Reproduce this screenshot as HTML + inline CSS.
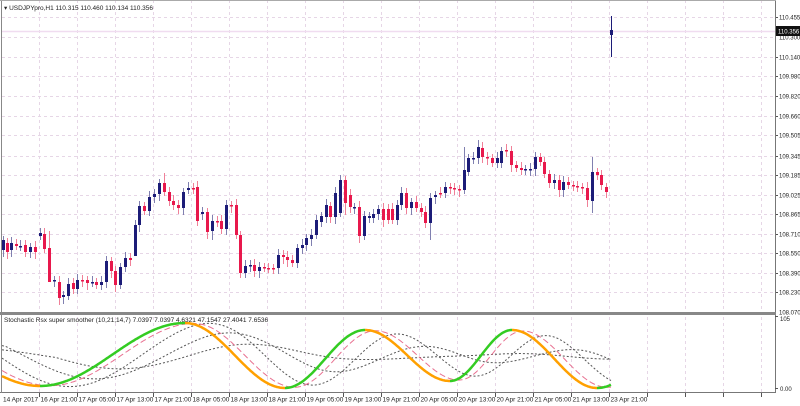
<!DOCTYPE html>
<html><head><meta charset="utf-8"><style>
html,body{margin:0;padding:0;background:#fff;width:800px;height:406px;overflow:hidden}
svg text{font-family:"Liberation Sans",sans-serif;font-size:6.5px;fill:#222}
svg text.p{font-size:6px}
</style></head><body>
<svg id="s" width="800" height="406" xmlns="http://www.w3.org/2000/svg"></svg>
<script>
var s=document.getElementById('s'),h='';
function L(x1,y1,x2,y2,c,w,d){h+='<line x1="'+x1+'" y1="'+y1+'" x2="'+x2+'" y2="'+y2+'" stroke="'+c+'" stroke-width="'+(w||1)+'"'+(d?' stroke-dasharray="'+d+'"':'')+'/>';}
function T(x,y,t,a){h+='<text x="'+x+'" y="'+y+'"'+(a?' '+a:'')+'>'+t+'</text>';}
function P(x,y,t,a){h+='<text class="p" x="'+x+'" y="'+y+'"'+(a?' '+a:'')+'>'+t+'</text>';}
var G='#e6d6e6';
var pl=[['110.455',17],['110.140',57],['109.980',76],['109.820',96],['109.660',116],['109.505',135],['109.345',156],['109.185',175],['109.025',195],['108.865',214],['108.710',234],['108.550',253],['108.390',273],['108.230',292]];
pl.forEach(function(p){L(2,p[1]+0.5,775,p[1]+0.5,G,1,'3,3');L(775,p[1]+0.5,778,p[1]+0.5,'#555');P(779,p[1]+2.5,p[0]);});
L(2,37.5,775,37.5,G,1,'3,3');P(779,39.5,'110.300');
P(779,314.5,'108.070');
var tl=['16 Apr 21:00','17 Apr 05:00','17 Apr 13:00','17 Apr 21:00','18 Apr 05:00','18 Apr 13:00','18 Apr 21:00','19 Apr 05:00','19 Apr 13:00','19 Apr 21:00','20 Apr 05:00','20 Apr 13:00','20 Apr 21:00','21 Apr 05:00','21 Apr 13:00','23 Apr 21:00'];
for(var k=0;k<20;k++){var x=40+k*38-0.5;if(x>=775)break;L(x,0,x,312,G,1,'3,3');L(x,317,x,392,G,1,'3,3');L(x,393,x,397,'#555');if(k<tl.length)T(x+1,401.5,tl[k]);}
T(3,401.5,'14 Apr 2017');
L(2,31.5,775,31.5,'#f0dcf0',1.5);
var c=[[3,250,240],[7,243,252],[11,250,243],[16,244,246],[20,247,246],[25,245,252],[30,252,247],[35,247,252],[40,236,233],[44,234,249],[49,248,282],[54,281,280],[59,282,298],[63,297,295],[68,296,284],[73,283,289],[77,289,280],[82,280,281],[87,280,283],[92,283,282],[96,282,285],[101,285,282],[106,282,261],[111,261,271],[115,271,285],[120,285,267],[125,267,258],[130,258,260],[135,256,225],[139,225,206],[144,206,211],[149,211,197],[154,197,194],[159,194,183],[164,183,192],[169,192,201],[173,201,205],[178,205,208],[183,208,192],[188,190,188],[193,188,189],[197,187,221],[202,214,212],[207,212,232],[212,231,221],[217,221,222],[221,221,229],[226,229,205],[231,205,206],[236,205,235],[240,235,273],[245,273,266],[250,266,265],[254,265,271],[259,271,267],[264,267,268],[268,268,269],[273,268,269],[278,268,255],[283,255,257],[287,257,260],[292,260,263],[297,263,248],[302,248,245],[306,245,238],[311,239,235],[316,235,220],[321,222,216],[326,217,205],[330,206,217],[335,217,193],[340,213,180],[345,180,203],[350,195,207],[354,208,207],[359,207,236],[364,236,216],[369,218,216],[373,218,214],[378,214,209],[383,209,220],[388,209,220],[392,209,220],[397,220,205],[401,205,193],[406,193,208],[411,208,202],[416,202,208],[421,208,212],[425,212,223],[430,223,198],[435,197,195],[440,193,194],[445,193,187],[450,187,188],[454,188,189],[459,189,190],[464,190,170],[468,172,158],[473,159,158],[478,158,147],[482,148,157],[487,157,158],[492,158,163],[497,163,158],[501,163,151],[506,150,151],[511,151,165],[516,165,168],[521,168,170],[525,170,169],[530,170,169],[535,169,157],[540,157,162],[544,162,174],[549,174,183],[554,183,180],[559,180,190],[563,190,182],[568,182,185],[573,185,186],[577,186,187],[582,187,188],[587,188,200],[592,201,172],[597,172,175],[601,175,185],[606,187,192],[611,35,30]];
var wk={49:[231,282],135:[220,228],164:[173,0],212:[0,240],240:[0,278],345:[0,215],430:[0,240],464:[147,0],478:[140,0],592:[157,213],611:[16,57]};
c.forEach(function(b){var x=b[0],o=b[1],cl=b[2],up=cl<=o,col=up?'#1c1c78':'#e8184c',wc=up?'#8080b0':'#f08098';
var t=Math.min(o,cl),bt=Math.max(o,cl);var w=wk[x]||[0,0];var hi=w[0]||t-4-(x%3),lo=w[1]||bt+4+(x%4);
L(x+0.5,hi,x+0.5,lo,x==611?'#1c1c78':wc);h+='<rect x="'+(x-1)+'" y="'+t+'" width="3" height="'+Math.max(bt-t,1.5)+'" fill="'+col+'"/>';});
h+='<rect x="776" y="26" width="24" height="10" fill="#111"/>';h+='<text class="p" x="778" y="33.3" style="fill:#fff">110.356</text>';
L(775.5,0,775.5,393,'#777');L(0,313.5,776,313.5,'#888',3);L(0,392.5,776,392.5,'#777');L(1.5,0,1.5,393,'#888');L(0,0.5,776,0.5,'#aaa');
P(780,321,'105');P(780,391,'0.00');L(775,316.5,778,316.5,'#555');L(775,388.5,778,388.5,'#555');
var kp=[[-105,324],[40,386],[185,323],[285,388],[365,330],[450,381],[512,330],[597,388],[690,330]];
function f(x){for(var i=0;i<kp.length-1;i++){var a=kp[i],b=kp[i+1];if(x>=a[0]&&x<=b[0]){var t=(x-a[0])/(b[0]-a[0]);t=(1-Math.cos(Math.PI*t))/2;return a[1]+(b[1]-a[1])*t;}}return 355;}
function path(fn,x0,x1,col,w,d){var p='';for(var x=x0;x<=x1;x++)p+=(x==x0?'M':'L')+x+','+fn(x).toFixed(1);h+='<path d="'+p+'" fill="none" stroke="'+col+'" stroke-width="'+w+'"'+(d?' stroke-dasharray="'+d+'"':'')+'/>';}
function lag(l,a){return function(x){var v=0,n=0;for(var k=-l;k<=0;k+=2){v+=f(x+k);n++;}v/=n;return 355+(v-355)*a;};}
path(lag(60,1.1),2,611,'#555',1,'2,2');
path(lag(110,1.0),2,611,'#555',1,'2,2');
path(lag(160,0.8),2,611,'#555',1,'2,2');
path(lag(20,1.0),2,611,'#e87090',1,'6,3');
var seg=[[2,40,'#ffa000'],[40,185,'#33cc22'],[185,285,'#ffa000'],[285,365,'#33cc22'],[365,450,'#ffa000'],[450,512,'#33cc22'],[512,597,'#ffa000'],[597,611,'#33cc22']];
seg.forEach(function(q){path(f,q[0],q[1],q[2],2.5);});
T(4,10,'▾ USDJPYpro,H1  110.315 110.460 110.134 110.356');
T(4,322,'Stochastic Rsx super smoother (10,21,14,7) 7.0397 7.0397 4.6321 47.1547 27.4041 7.6536');
s.innerHTML=h;
</script>
</body></html>
